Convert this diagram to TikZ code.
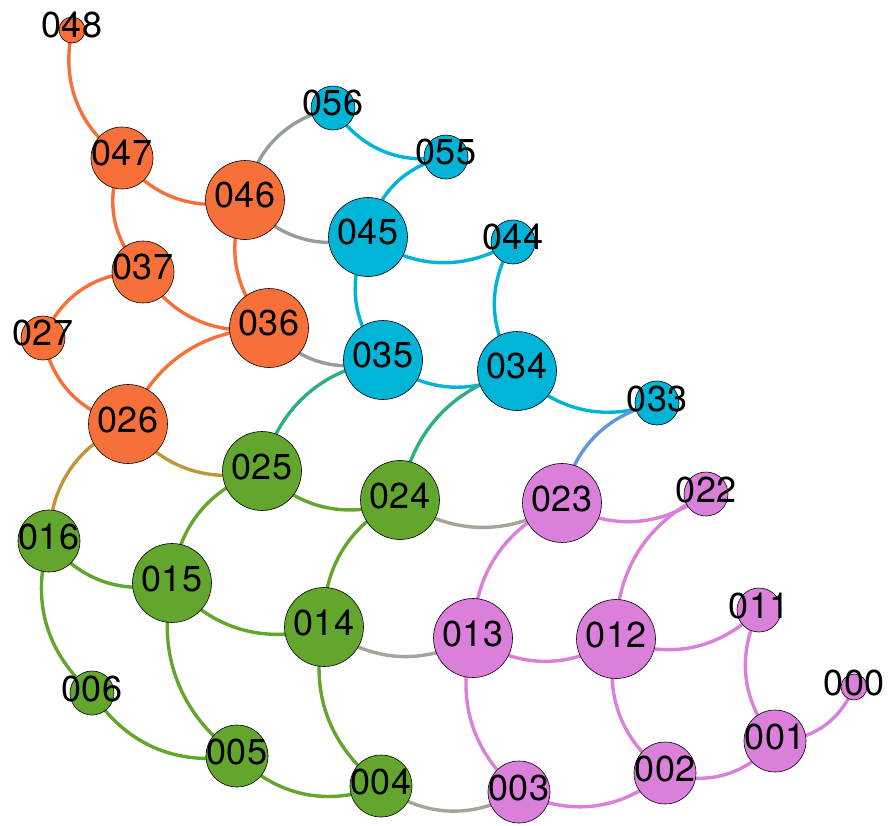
\documentclass[tikz,border=0pt]{standalone}
\usepackage{fontspec}
\setmainfont{TeX Gyre Heros}
\usetikzlibrary{backgrounds}

\definecolor{cOr}{RGB}{247,112,58}
\definecolor{cBl}{RGB}{0,180,216}
\definecolor{cGr}{RGB}{98,166,46}
\definecolor{cVi}{RGB}{218,128,218}
\definecolor{cOB}{RGB}{150,155,155}
\definecolor{cBG}{RGB}{45,174,135}
\definecolor{cBV}{RGB}{95,150,220}
\definecolor{cOG}{RGB}{190,152,55}
\definecolor{cGV}{RGB}{168,163,153}

\tikzset{
  st/.style={circle,draw=black,line width=0.6pt,inner sep=0pt},
  big/.style={st,minimum size=79pt},
  mid/.style={st,minimum size=62pt},
  sml/.style={st,minimum size=44pt},
  tny/.style={st,minimum size=26pt},
  lbl/.style={font=\fontsize{36}{36}\selectfont,yshift=4.5pt,inner sep=0pt},
  e/.style={line width=3.4pt,bend right=33}
}

\begin{document}
\begin{tikzpicture}[x=1pt,y=1pt]
\useasboundingbox (0,-825) rectangle (891,0);

% orange
\node[tny,fill=cOr,label={[lbl]center:048}] (n048) at (72,-30) {};
\node[mid,fill=cOr,label={[lbl]center:047}] (n047) at (122,-158) {};
\node[big,fill=cOr,label={[lbl]center:046}] (n046) at (245,-200) {};
\node[mid,fill=cOr,label={[lbl]center:037}] (n037) at (143,-272) {};
\node[big,fill=cOr,label={[lbl]center:036}] (n036) at (269,-328) {};
\node[sml,fill=cOr,label={[lbl]center:027}] (n027) at (43,-338) {};
\node[big,fill=cOr,label={[lbl]center:026}] (n026) at (128,-424) {};

% blue
\node[sml,fill=cBl,label={[lbl]center:056}] (n056) at (333,-108) {};
\node[sml,fill=cBl,label={[lbl]center:055}] (n055) at (446,-157) {};
\node[big,fill=cBl,label={[lbl]center:045}] (n045) at (368,-237) {};
\node[sml,fill=cBl,label={[lbl]center:044}] (n044) at (513,-242) {};
\node[big,fill=cBl,label={[lbl]center:035}] (n035) at (383,-360) {};
\node[big,fill=cBl,label={[lbl]center:034}] (n034) at (517,-371) {};
\node[sml,fill=cBl,label={[lbl]center:033}] (n033) at (657,-403) {};

% green
\node[big,fill=cGr,label={[lbl]center:025}] (n025) at (262,-471) {};
\node[big,fill=cGr,label={[lbl]center:024}] (n024) at (400,-500) {};
\node[mid,fill=cGr,label={[lbl]center:016}] (n016) at (49,-541) {};
\node[big,fill=cGr,label={[lbl]center:015}] (n015) at (172,-583) {};
\node[big,fill=cGr,label={[lbl]center:014}] (n014) at (324,-627) {};
\node[sml,fill=cGr,label={[lbl]center:006}] (n006) at (92,-693) {};
\node[mid,fill=cGr,label={[lbl]center:005}] (n005) at (237,-756) {};
\node[mid,fill=cGr,label={[lbl]center:004}] (n004) at (381,-786) {};

% violet
\node[big,fill=cVi,label={[lbl]center:023}] (n023) at (562,-503) {};
\node[sml,fill=cVi,label={[lbl]center:022}] (n022) at (706,-494) {};
\node[big,fill=cVi,label={[lbl]center:013}] (n013) at (473,-638) {};
\node[big,fill=cVi,label={[lbl]center:012}] (n012) at (616,-639) {};
\node[sml,fill=cVi,label={[lbl]center:011}] (n011) at (759,-610) {};
\node[tny,fill=cVi,label={[lbl]center:000}] (n000) at (854,-687) {};
\node[mid,fill=cVi,label={[lbl]center:001}] (n001) at (775,-741) {};
\node[mid,fill=cVi,label={[lbl]center:002}] (n002) at (665,-773) {};
\node[mid,fill=cVi,label={[lbl]center:003}] (n003) at (519,-792) {};

% edges run centre to centre, behind the discs
\begin{scope}[on background layer]
\draw[e,cOr] (n048.center) to (n047.center);
\draw[e,cOr] (n047.center) to (n046.center);
\draw[e,cOr] (n047.center) to (n037.center);
\draw[e,cOr] (n046.center) to (n036.center);
\draw[e,cOr] (n037.center) to (n036.center);
\draw[e,cOr] (n037.center) to (n027.center);
\draw[e,cOr] (n027.center) to (n026.center);
\draw[e,cOr] (n036.center) to (n026.center);

\draw[e,cOB] (n056.center) to (n046.center);
\draw[e,cOB] (n046.center) to (n045.center);
\draw[e,cOB] (n036.center) to (n035.center);

\draw[e,cBl] (n056.center) to (n055.center);
\draw[e,cBl] (n055.center) to (n045.center);
\draw[e,cBl] (n045.center) to (n044.center);
\draw[e,cBl] (n045.center) to (n035.center);
\draw[e,cBl] (n044.center) to (n034.center);
\draw[e,cBl] (n035.center) to (n034.center);
\draw[e,cBl] (n034.center) to (n033.center);

\draw[e,cBG] (n035.center) to (n025.center);
\draw[e,cBG] (n034.center) to (n024.center);
\draw[e,cBV] (n033.center) to (n023.center);
\draw[e,cOG] (n026.center) to (n025.center);
\draw[e,cOG] (n026.center) to (n016.center);

\draw[e,cGr] (n025.center) to (n024.center);
\draw[e,cGr] (n025.center) to (n015.center);
\draw[e,cGr] (n024.center) to (n014.center);
\draw[e,cGr] (n016.center) to (n015.center);
\draw[e,cGr] (n016.center) to (n006.center);
\draw[e,cGr] (n015.center) to (n014.center);
\draw[e,cGr] (n015.center) to (n005.center);
\draw[e,cGr] (n014.center) to (n004.center);
\draw[e,cGr] (n006.center) to (n005.center);
\draw[e,cGr] (n005.center) to (n004.center);

\draw[e,cGV] (n024.center) to (n023.center);
\draw[e,cGV] (n014.center) to (n013.center);
\draw[e,cGV] (n004.center) to (n003.center);

\draw[e,cVi] (n023.center) to (n022.center);
\draw[e,cVi] (n023.center) to (n013.center);
\draw[e,cVi] (n022.center) to (n012.center);
\draw[e,cVi] (n013.center) to (n012.center);
\draw[e,cVi] (n013.center) to (n003.center);
\draw[e,cVi] (n012.center) to (n011.center);
\draw[e,cVi] (n012.center) to (n002.center);
\draw[e,cVi] (n011.center) to (n001.center);
\draw[e,cVi] (n003.center) to (n002.center);
\draw[e,cVi] (n002.center) to (n001.center);
\draw[e,cVi] (n001.center) to (n000.center);
\end{scope}

\end{tikzpicture}
\end{document}
